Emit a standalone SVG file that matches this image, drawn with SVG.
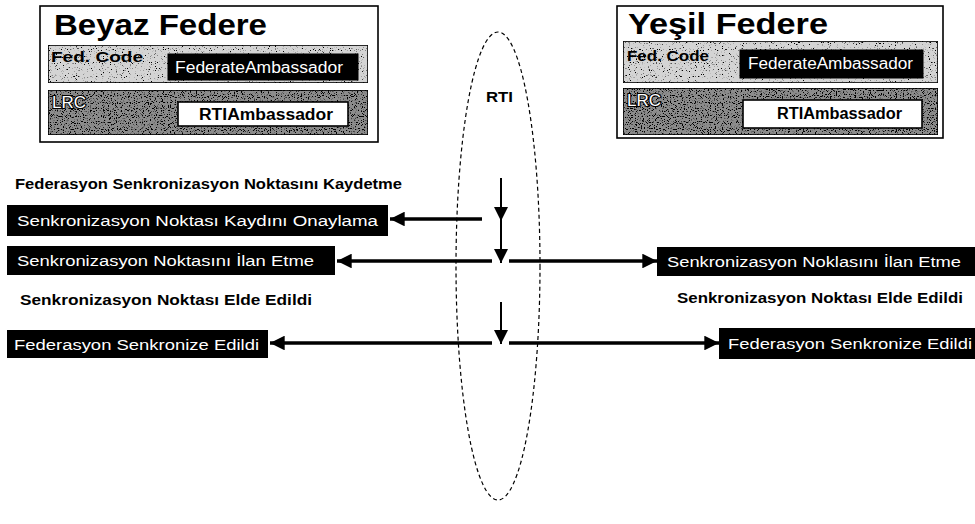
<svg xmlns="http://www.w3.org/2000/svg" width="975" height="524" viewBox="0 0 975 524">
  <defs>
    <style>
      .frame { fill: #ffffff; stroke: #000; stroke-width: 1.6; }
      .row { stroke: #000; stroke-width: 1.6; }
      .light { fill: #d4d4d4; }
      .dark { fill: #8c8c8c; }
      .amb { fill: #000; stroke: #000; stroke-width: 1; }
      .rti { fill: #fff; stroke: #000; stroke-width: 1.6; }
      .title { font-family: "Liberation Sans", Arial, sans-serif; font-weight: bold; font-size: 30px; fill: #000; }
      .tag { font-family: "Liberation Sans", Arial, sans-serif; font-weight: bold; font-size: 15px; fill: #000; }
      .lrc { font-family: "Liberation Sans", Arial, sans-serif; font-size: 17px; fill: #fff; stroke: #000; stroke-width: 2.2; paint-order: stroke; }
      .wtxt { font-family: "Liberation Sans", Arial, sans-serif; font-size: 16px; fill: #fff; }
      .btxt { font-family: "Liberation Sans", Arial, sans-serif; font-weight: bold; font-size: 16px; fill: #000; }
      .msg { fill: #000; }
      .msgtxt { font-family: "Liberation Sans", Arial, sans-serif; font-size: 15.5px; fill: #fff; }
      .step { font-family: "Liberation Sans", Arial, sans-serif; font-weight: bold; font-size: 14.5px; fill: #000; }
      .flow { stroke: #000; stroke-width: 3.5; fill: none; }
      .tick { stroke: #000; stroke-width: 2; fill: none; }
      .rtiring { fill: none; stroke: #000; stroke-width: 1.2; stroke-dasharray: 4 3; }
    </style>
    <!-- grainy print texture for the inner rows -->
    <filter id="grainLight" x="0" y="0" width="1" height="1">
      <feTurbulence type="fractalNoise" baseFrequency="0.85" numOctaves="1" seed="7" result="noise"/>
      <feColorMatrix in="noise" type="matrix" values="0 0 0 0 0  0 0 0 0 0  0 0 0 0 0  -10 0 0 0 3.9" result="dots"/>
      <feComposite in="dots" in2="SourceGraphic" operator="in" result="clip"/>
      <feMerge><feMergeNode in="SourceGraphic"/><feMergeNode in="clip"/></feMerge>
    </filter>
    <filter id="grainDark" x="0" y="0" width="1" height="1">
      <feTurbulence type="fractalNoise" baseFrequency="0.85" numOctaves="1" seed="11" result="noise"/>
      <feColorMatrix in="noise" type="matrix" values="0 0 0 0 0  0 0 0 0 0  0 0 0 0 0  -10 0 0 0 4.6" result="dots"/>
      <feComposite in="dots" in2="SourceGraphic" operator="in" result="clip"/>
      <feMerge><feMergeNode in="SourceGraphic"/><feMergeNode in="clip"/></feMerge>
    </filter>
    <marker id="headH" viewBox="0 0 10 10" refX="10" refY="5" markerWidth="4.4" markerHeight="4.2" orient="auto" markerUnits="strokeWidth">
      <path d="M0,0 L10,5 L0,10 Z" fill="#000"/>
    </marker>
    <marker id="headV" viewBox="0 0 10 10" refX="10" refY="5" markerWidth="7" markerHeight="7" orient="auto" markerUnits="strokeWidth">
      <path d="M0,0 L10,5 L0,10 Z" fill="#000"/>
    </marker>
  </defs>

  <rect width="975" height="524" fill="#fff"/>

  <!-- White federate -->
  <g id="beyaz-federe">
    <rect class="frame" x="40" y="6" width="338" height="136"/>
    <text class="title" x="54" y="35" textLength="213" lengthAdjust="spacingAndGlyphs">Beyaz Federe</text>
    <rect class="row light" x="48" y="45" width="320" height="38" filter="url(#grainLight)"/>
    <text class="tag" x="51" y="62" textLength="92" lengthAdjust="spacingAndGlyphs">Fed. Code</text>
    <rect class="amb" x="168" y="54" width="190" height="26"/>
    <text class="wtxt" x="175" y="73" textLength="168" lengthAdjust="spacingAndGlyphs">FederateAmbassador</text>
    <rect class="row dark" x="48" y="90" width="320" height="45" filter="url(#grainDark)"/>
    <text class="lrc" x="52" y="108">LRC</text>
    <rect class="rti" x="178" y="102" width="170" height="24"/>
    <text class="btxt" x="199" y="120" textLength="134" lengthAdjust="spacingAndGlyphs">RTIAmbassador</text>
  </g>

  <!-- Green federate -->
  <g id="yesil-federe">
    <rect class="frame" x="617" y="6" width="326" height="132"/>
    <text class="title" x="628" y="34" textLength="200" lengthAdjust="spacingAndGlyphs">Yeşil Federe</text>
    <rect class="row light" x="623" y="41" width="315" height="42" filter="url(#grainLight)"/>
    <text class="tag" x="627" y="61" textLength="82" lengthAdjust="spacingAndGlyphs">Fed. Code</text>
    <rect class="amb" x="740" y="50" width="183" height="28"/>
    <text class="wtxt" x="748" y="69" textLength="165" lengthAdjust="spacingAndGlyphs">FederateAmbassador</text>
    <rect class="row dark" x="623" y="88" width="315" height="47" filter="url(#grainDark)"/>
    <text class="lrc" x="627" y="106">LRC</text>
    <rect class="rti" x="743" y="100" width="179" height="28"/>
    <text class="btxt" x="777" y="119" textLength="125" lengthAdjust="spacingAndGlyphs">RTIAmbassador</text>
  </g>

  <!-- RTI boundary -->
  <g id="rti">
    <ellipse class="rtiring" cx="498" cy="266" rx="42" ry="234"/>
    <text class="tag" x="486" y="102" textLength="27" lengthAdjust="spacingAndGlyphs">RTI</text>
  </g>

  <!-- Service call labels -->
  <g id="label-kaydetme">
    <text class="step" x="15" y="189" textLength="387" lengthAdjust="spacingAndGlyphs">Federasyon Senkronizasyon Noktasını Kaydetme</text>
  </g>
  <g id="label-elde-sol">
    <text class="step" x="20" y="305" textLength="292" lengthAdjust="spacingAndGlyphs">Senkronizasyon Noktası Elde Edildi</text>
  </g>
  <g id="label-elde-sag">
    <text class="step" x="677" y="303" textLength="286" lengthAdjust="spacingAndGlyphs">Senkronizasyon Noktası Elde Edildi</text>
  </g>

  <!-- Callback boxes -->
  <g id="onaylama">
    <rect class="msg" x="7" y="205" width="381" height="31"/>
    <text class="msgtxt" x="17" y="226" textLength="361" lengthAdjust="spacingAndGlyphs">Senkronizasyon Noktası Kaydını Onaylama</text>
  </g>
  <g id="ilan-sol">
    <rect class="msg" x="7" y="246" width="328" height="29"/>
    <text class="msgtxt" x="17" y="266" textLength="297" lengthAdjust="spacingAndGlyphs">Senkronizasyon Noktasını İlan Etme</text>
  </g>
  <g id="edildi-sol">
    <rect class="msg" x="7" y="330" width="261" height="28"/>
    <text class="msgtxt" x="14" y="350" textLength="245" lengthAdjust="spacingAndGlyphs">Federasyon Senkronize Edildi</text>
  </g>
  <g id="ilan-sag">
    <rect class="msg" x="657" y="247" width="318" height="29"/>
    <text class="msgtxt" x="667" y="267" textLength="294" lengthAdjust="spacingAndGlyphs">Senkronizasyon Noklasını İlan Etme</text>
  </g>
  <g id="edildi-sag">
    <rect class="msg" x="719" y="328" width="256" height="31"/>
    <text class="msgtxt" x="728" y="349" textLength="244" lengthAdjust="spacingAndGlyphs">Federasyon Senkronize Edildi</text>
  </g>

  <!-- Connectors -->
  <g id="connectors">
    <line class="tick" x1="501" y1="178" x2="501" y2="221" marker-end="url(#headV)"/>
    <line class="tick" x1="501" y1="219" x2="501" y2="263" marker-end="url(#headV)"/>
    <line class="tick" x1="501" y1="302" x2="501" y2="344" marker-end="url(#headV)"/>
    <line class="flow" x1="482" y1="219" x2="390" y2="219" marker-end="url(#headH)"/>
    <line class="flow" x1="492" y1="261" x2="337" y2="261" marker-end="url(#headH)"/>
    <line class="flow" x1="509" y1="261" x2="657" y2="261" marker-end="url(#headH)"/>
    <line class="flow" x1="492" y1="343" x2="270" y2="343" marker-end="url(#headH)"/>
    <line class="flow" x1="509" y1="343" x2="719" y2="343" marker-end="url(#headH)"/>
  </g>
</svg>
